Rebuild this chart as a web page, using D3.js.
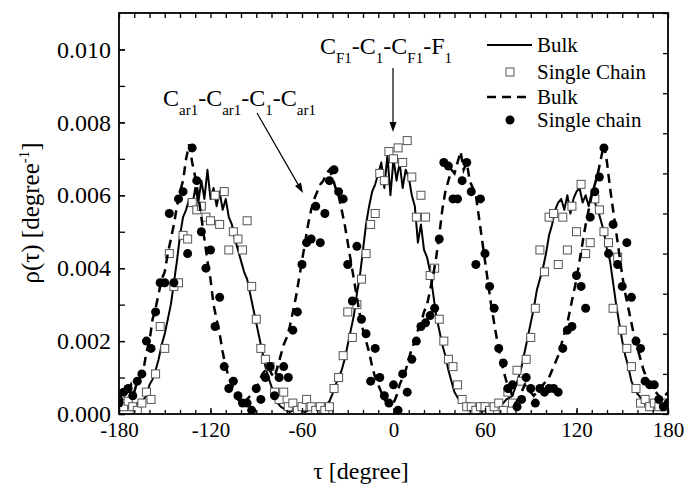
<!DOCTYPE html>
<html>
<head>
<meta charset="utf-8">
<script src="https://cdn.jsdelivr.net/npm/d3@7"></script>
</head>
<body style="margin:0">
<svg id="torsion" width="688" height="493"></svg>
<script>
//////// Data (rho values in units of 1e-5 degree^-1)

// solid "Bulk" line, tau = -180..180 step 2
var tauLine = d3.range(-180, 181, 2);
var bulkSolid = [
	20,25,15,20,10,25,30,20,40,50,
	80,95,120,150,190,220,260,300,360,420,
	490,540,560,590,570,620,580,640,590,670,
	590,620,570,610,560,590,540,520,480,450,
	420,390,370,330,290,250,210,170,130,100,
	75,50,30,20,15,10,5,10,5,15,
	10,5,10,15,5,10,15,20,25,35,
	55,80,100,120,150,190,230,270,330,380,
	450,520,570,610,630,660,690,620,710,600,
	700,640,690,620,670,650,600,570,470,520,
	450,430,390,330,270,230,190,160,120,90,
	60,45,35,30,20,15,10,15,10,5,
	15,10,20,15,20,25,30,40,45,50,
	75,100,130,170,210,250,290,340,370,400,
	440,490,520,560,580,590,560,600,550,590,
	610,620,580,600,570,610,580,560,530,500,
	450,420,360,300,250,200,160,130,90,70,
	55,45,35,25,20,15,20,15,10,20,
	15
];

// dashed "Bulk" line, tau = -180..180 step 2
var bulkDashed = [
	60,40,70,50,80,60,90,100,120,170,
	200,260,290,330,370,390,440,480,520,570,
	610,640,700,740,690,650,600,540,480,420,
	370,300,260,220,170,130,100,80,60,40,
	30,30,40,50,60,70,90,110,120,130,
	110,100,130,160,190,210,240,280,320,370,
	420,470,520,560,590,610,630,640,660,670,
	650,620,600,560,520,470,420,370,320,270,
	230,200,170,130,100,80,60,40,30,20,
	30,50,80,100,120,150,180,200,230,250,
	280,300,340,380,430,490,560,610,640,670,
	660,690,720,670,690,640,620,600,540,480,
	420,360,300,250,200,160,120,90,70,50,
	30,40,60,80,70,60,50,60,70,80,
	90,100,120,140,160,190,220,250,290,330,
	370,420,470,520,560,600,630,660,700,740,
	690,620,560,500,440,380,330,290,250,210,
	180,150,120,100,80,70,60,50,40,50,
	60
];

// markers, tau = -180..180 step 3
var tauMarker = d3.range(-180, 181, 3);
var singleChainSquares = [
	30,20,35,20,10,30,60,40,110,240,
	180,440,350,360,490,480,580,560,570,540,
	530,600,520,610,450,500,480,450,530,350,
	260,180,150,130,60,40,60,20,30,10,
	20,40,20,10,20,10,20,70,100,160,
	280,210,300,370,440,520,550,660,640,720,
	700,730,690,750,650,540,600,540,380,400,
	260,200,150,130,80,40,20,20,10,20,
	20,10,20,30,10,60,30,120,90,150,
	210,290,450,390,540,550,410,540,450,570,
	500,630,440,470,590,560,500,470,290,430,
	230,180,130,70,30,40,20,30,20,30,
	20
];
var singleChainDots = [
	30,60,70,50,90,110,200,180,280,360,
	360,550,360,590,610,440,730,640,500,400,
	450,240,320,130,70,90,50,30,30,10,
	70,40,100,130,50,100,130,100,230,280,
	410,470,480,570,470,550,640,670,610,590,
	410,310,460,260,220,90,180,100,50,30,
	80,10,110,60,150,200,240,250,270,290,
	480,690,680,590,590,640,690,610,410,590,
	440,350,290,180,140,70,80,20,40,100,
	70,30,70,60,70,70,60,180,230,240,
	380,350,290,540,610,650,730,440,520,410,
	350,470,320,200,180,90,80,80,40,20,
	30
];

var xTicks = [-180, -120, -60, 0, 60, 120, 180];
var xTickLabels = ["-180", "-120", "-60", "0", "60", "120", "180"];
var yTicks = [0, 0.002, 0.004, 0.006, 0.008, 0.010];
var legendLabels = ["Bulk", "Single Chain", "Bulk", "Single chain"];
var annoTop = [["C", "F1"], ["-C", "1"], ["-C", "F1"], ["-F", "1"]];
var annoLeft = [["C", "ar1"], ["-C", "ar1"], ["-C", "1"], ["-C", "ar1"]];

function drawChart() {
	var W = 688, H = 493;
	var m = {left: 119, right: 20, top: 13, bottom: 79};
	var fam = "Liberation Serif";
	var k = 1e-5;

	var sx = d3.scaleLinear().domain([-180, 180]).range([m.left, W - m.right]);
	var sy = d3.scaleLinear().domain([0, 0.011]).range([H - m.bottom, m.top]);

	var svg = d3.select("#torsion");

	svg.append("defs").append("clipPath").attr("id", "plotArea")
		.append("rect")
		.attr("x", m.left).attr("y", m.top)
		.attr("width", W - m.left - m.right)
		.attr("height", H - m.top - m.bottom);

	var plot = svg.append("g").attr("clip-path", "url(#plotArea)");

	function pairs(taus, vals) {
		return taus.map(function(t, i) { return [t, vals[i] * k]; });
	}

	var lineGen = d3.line()
		.x(function(d) { return sx(d[0]); })
		.y(function(d) { return sy(d[1]); });

	//////// Series

	plot.append("path")
		.datum(pairs(tauLine, bulkSolid))
		.attr("d", lineGen)
		.attr("fill", "none")
		.attr("stroke", "#000")
		.attr("stroke-width", 2)
		.attr("stroke-linejoin", "round");

	plot.selectAll(".sq")
		.data(pairs(tauMarker, singleChainSquares))
		.enter().append("rect")
		.attr("class", "sq")
		.attr("x", function(d) { return sx(d[0]) - 4; })
		.attr("y", function(d) { return sy(d[1]) - 4; })
		.attr("width", 8).attr("height", 8)
		.attr("fill", "#fff")
		.attr("stroke", "#555")
		.attr("stroke-width", 1);

	plot.append("path")
		.datum(pairs(tauLine, bulkDashed))
		.attr("d", lineGen)
		.attr("fill", "none")
		.attr("stroke", "#000")
		.attr("stroke-width", 2.5)
		.attr("stroke-dasharray", "9,6");

	plot.selectAll(".dot")
		.data(pairs(tauMarker, singleChainDots))
		.enter().append("circle")
		.attr("class", "dot")
		.attr("cx", function(d) { return sx(d[0]); })
		.attr("cy", function(d) { return sy(d[1]); })
		.attr("r", 4.5)
		.attr("fill", "#000");

	//////// Axes (ticks inward on all four sides)

	var xg = svg.append("g")
		.attr("transform", "translate(0," + (H - m.bottom) + ")")
		.call(d3.axisBottom(sx).tickValues(xTicks)
			.tickFormat(function(d, i) { return xTickLabels[i]; })
			.tickSizeInner(-6).tickSizeOuter(0).tickPadding(8));

	svg.append("g")
		.attr("transform", "translate(0," + (H - m.bottom) + ")")
		.call(d3.axisBottom(sx).tickValues(d3.range(-180, 181, 10)).tickFormat("")
			.tickSizeInner(-4).tickSizeOuter(0));

	svg.append("g")
		.attr("transform", "translate(0," + m.top + ")")
		.call(d3.axisTop(sx).tickValues(d3.range(-180, 181, 10)).tickFormat("")
			.tickSizeInner(-5).tickSizeOuter(0));

	var yg = svg.append("g")
		.attr("transform", "translate(" + m.left + ",0)")
		.call(d3.axisLeft(sy).tickValues(yTicks).tickFormat(d3.format(".3f"))
			.tickSizeInner(-6).tickSizeOuter(0).tickPadding(8));

	svg.append("g")
		.attr("transform", "translate(" + m.left + ",0)")
		.call(d3.axisLeft(sy).tickValues(d3.range(0, 0.0105, 0.001)).tickFormat("")
			.tickSizeInner(-6).tickSizeOuter(0));

	var sRight = d3.scaleLinear().domain([0, 10]).range([H - m.bottom, m.top]);
	svg.append("g")
		.attr("transform", "translate(" + (W - m.right) + ",0)")
		.call(d3.axisRight(sRight).ticks(10).tickFormat("")
			.tickSizeInner(-5).tickSizeOuter(0));

	svg.selectAll(".domain").remove();
	svg.selectAll(".tick line").attr("stroke", "#000").attr("stroke-width", 1.3);
	svg.selectAll("g").attr("font-family", null).attr("font-size", null);
	xg.selectAll("text").attr("font-family", fam).attr("font-size", 21);
	yg.selectAll("text").attr("font-family", fam).attr("font-size", 24);

	svg.append("rect")
		.attr("x", m.left).attr("y", m.top)
		.attr("width", W - m.left - m.right)
		.attr("height", H - m.top - m.bottom)
		.attr("fill", "none")
		.attr("stroke", "#000")
		.attr("stroke-width", 1.8);

	//////// Axis titles

	svg.append("text")
		.attr("x", 361).attr("y", 479)
		.attr("text-anchor", "middle")
		.attr("font-family", fam)
		.attr("font-size", 24)
		.text("\u03c4 [degree]");

	var yTitle = svg.append("text")
		.attr("transform", "translate(39,213) rotate(-90)")
		.attr("text-anchor", "middle")
		.attr("font-family", fam)
		.attr("font-size", 25);
	yTitle.append("tspan").text("\u03c1(\u03c4) [degree");
	yTitle.append("tspan").attr("dy", -10).attr("font-size", 15).text("-1");
	yTitle.append("tspan").attr("dy", 10).text("]");

	//////// Legend

	var lg = svg.append("g");
	legendLabels.forEach(function(lab, i) {
		var ly = [45, 72, 97, 120][i];
		if (i === 0 || i === 2) {
			lg.append("line")
				.attr("x1", 487).attr("x2", 532).attr("y1", ly).attr("y2", ly)
				.attr("stroke", "#000")
				.attr("stroke-width", i === 0 ? 2 : 2.5)
				.attr("stroke-dasharray", i === 0 ? null : "9,6");
		} else if (i === 1) {
			lg.append("rect")
				.attr("x", 506).attr("y", ly - 4).attr("width", 8).attr("height", 8)
				.attr("fill", "#fff").attr("stroke", "#555");
		} else {
			lg.append("circle").attr("cx", 510).attr("cy", ly).attr("r", 4.5).attr("fill", "#000");
		}
		lg.append("text")
			.attr("x", 537).attr("y", ly + 7)
			.attr("font-family", fam)
			.attr("font-size", 21)
			.text(lab);
	});

	//////// Annotations

	function chemLabel(px, py, parts) {
		var t = svg.append("text").attr("x", px).attr("y", py)
			.attr("font-family", fam).attr("font-size", 24);
		parts.forEach(function(p, i) {
			t.append("tspan").attr("dy", i === 0 ? 0 : -9).attr("font-size", 24).text(p[0]);
			t.append("tspan").attr("dy", 9).attr("font-size", 15).text(p[1]);
		});
	}

	chemLabel(320, 54, annoTop);
	chemLabel(163, 106, annoLeft);

	function arrow(x1, y1, x2, y2) {
		var ang = Math.atan2(y2 - y1, x2 - x1), len = 10, half = 3.5;
		var bx = x2 - len * Math.cos(ang), by = y2 - len * Math.sin(ang);
		svg.append("line")
			.attr("x1", x1).attr("y1", y1).attr("x2", bx).attr("y2", by)
			.attr("stroke", "#000").attr("stroke-width", 1.2);
		svg.append("path")
			.attr("d", "M" + x2 + "," + y2 +
				"L" + (bx + half * Math.sin(ang)) + "," + (by - half * Math.cos(ang)) +
				"L" + (bx - half * Math.sin(ang)) + "," + (by + half * Math.cos(ang)) + "Z")
			.attr("fill", "#000");
	}

	arrow(393, 68, 393, 132);
	arrow(257, 113, 303, 193);
}

drawChart();
</script>
</body>
</html>
